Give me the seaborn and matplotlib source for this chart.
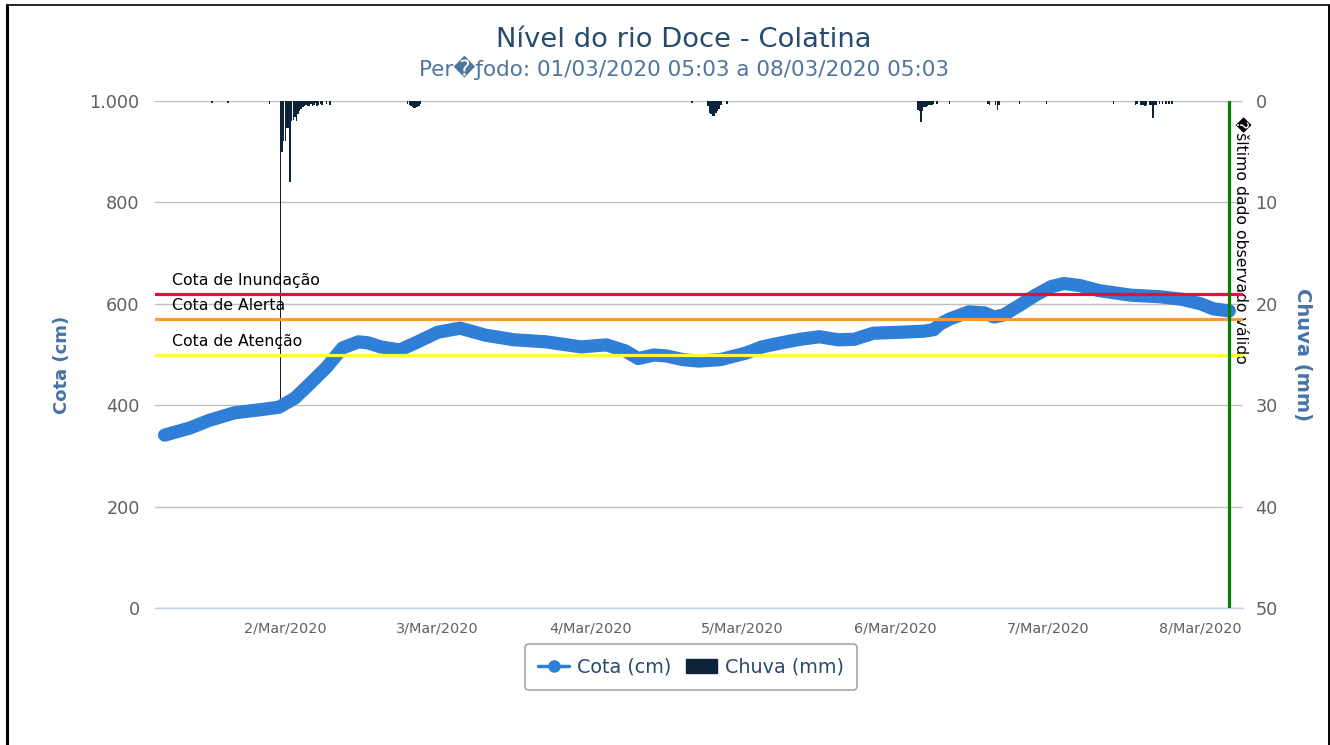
import seaborn as sns
import matplotlib.pyplot as plt
import matplotlib.dates as mdates
import pandas as pd
from matplotlib.lines import Line2D
from matplotlib.patches import Patch
from matplotlib.ticker import FuncFormatter, FixedLocator

# River level (cm), hours after 01/03/2020 05:03
cota_hours = [0, 4, 7, 11, 15, 18, 20.5, 23, 25.5, 28, 30.5, 32, 34, 37, 39.5, 43, 46.5, 50.5, 55, 60,
              65.5, 69.5, 72.5, 74.5, 77, 79, 81.5, 84, 87.5, 91.5, 94, 97, 100, 103, 106, 108.5, 111.5,
              116, 119.5, 121, 122, 123.5, 126.5, 129, 130.5, 132, 134.5, 137, 139.5, 141.5, 144, 147,
              152, 156.5, 160, 163, 165, 167.5]
cota_cm = [341, 355, 370, 385, 391, 396, 414, 444, 475, 513, 525, 523, 515, 509, 523, 544, 552, 538, 529, 525,
           515, 519, 507, 492, 499, 497, 490, 487, 490, 503, 515, 523, 530, 535, 529, 530, 542,
           544, 546, 549, 560, 570, 584, 582, 574, 578, 597, 617, 634, 640, 636, 626,
           617, 614, 609, 600, 590, 586]

# Rain (mm), hours after 01/03/2020 05:03
chuva_hours = [7.5, 10, 16.5,
               18.25, 18.5, 18.75, 19.0, 19.25, 19.5, 19.75, 20.0, 20.25, 20.5, 20.75, 21.0, 21.25, 21.5,
               21.75, 22.0, 22.25, 22.5, 22.75, 23.0, 23.25, 23.5, 23.75, 24.0, 24.25, 24.5, 24.75, 25.5, 26.0,
               38.25, 38.5, 38.75, 39.0, 39.25, 39.5, 39.75, 40.0, 40.25,
               83.0, 85.5, 85.75, 86.0, 86.25, 86.5, 86.75, 87.0, 87.25, 87.5, 88.5,
               118.5, 118.75, 119.0, 119.25, 119.5, 119.75, 120.0, 120.25, 120.5, 120.75, 121.0, 121.5,
               123.5, 129.5, 129.75, 130.75, 131.0, 131.25, 134.5, 138.75, 149.25,
               152.75, 153.0, 153.5, 153.75, 154.0, 154.25, 154.5, 155.0, 155.25, 155.5, 155.75, 156.0,
               156.5, 157.0, 157.5, 158.0, 158.5]
chuva_mm = [0.2, 0.2, 0.3,
            29.6, 5.0, 3.9, 3.9, 2.7, 2.7, 8.0, 2.0, 1.9, 1.6, 2.0, 1.3, 1.0, 0.8,
            0.6, 0.5, 0.4, 0.5, 0.5, 0.3, 0.5, 0.4, 0.2, 0.5, 0.4, 0.3, 0.4, 0.3, 0.4,
            0.3, 0.4, 0.5, 0.6, 0.7, 0.7, 0.6, 0.5, 0.3,
            0.2, 0.5, 1.2, 1.3, 1.5, 1.5, 1.2, 1.0, 0.8, 0.4, 0.3,
            0.9, 1.0, 2.1, 1.0, 0.6, 0.6, 0.5, 0.4, 0.4, 0.4, 0.3, 0.3,
            0.3, 0.3, 0.4, 0.4, 0.9, 0.4, 0.3, 0.3, 0.3,
            0.4, 0.3, 0.4, 0.4, 0.4, 0.5, 0.4, 0.4, 0.4, 1.7, 0.4, 0.4,
            0.3, 0.3, 0.3, 0.3, 0.3]

cotas_ref = [620, 570, 500]
cotas_nomes = ["Cota de Inundação", "Cota de Alerta", "Cota de Atenção"]
cotas_cores = ["#ff0040", "#ff9933", "#ffff33"]
ultimo_hora = 167.5

inicio = pd.Timestamp("2020-03-01 05:03")
df = pd.DataFrame({"tempo": inicio + pd.to_timedelta(cota_hours, unit="h"), "cota": cota_cm})
chuva = pd.DataFrame({"tempo": inicio + pd.to_timedelta(chuva_hours, unit="h"), "mm": chuva_mm})

sns.set_style("white")
plt.rcParams["font.family"] = ["DejaVu Sans"]

fig = plt.figure(figsize=(13.3, 7.45), dpi=100)
ax = fig.add_axes([155 / 1330, 1 - 608 / 745, 1088 / 1330, 507 / 745])
ax2 = ax.twinx()
ax.set_zorder(2)
ax2.set_zorder(1)
ax.patch.set_visible(False)

# rain bars hanging from top
ax2.bar(chuva["tempo"], chuva["mm"], width=0.25 / 24 * 0.95, color="#0d233a", linewidth=0)
ax2.set_ylim(50, 0)
ax2.yaxis.set_major_locator(FixedLocator(range(0, 51, 10)))
ax2.grid(axis="y", color="#c0c0c0", linewidth=1)
ax2.set_axisbelow(True)

sns.lineplot(data=df, x="tempo", y="cota", ax=ax, color="#2f7ed8", linewidth=9.5,
             solid_capstyle="round", solid_joinstyle="round", legend=False, zorder=3)
ax.set_ylim(0, 1000)
ax.set_yticks(range(0, 1001, 200))
ax.yaxis.set_major_formatter(FuncFormatter(lambda v, p: f"{int(v):,}".replace(",", ".")))
ax.set_xlim(inicio - pd.Timedelta(hours=1.5), inicio + pd.Timedelta(hours=169.65))
ax.set_xlabel("")
ax.set_ylabel("")

for val, nome, cor in zip(cotas_ref, cotas_nomes, cotas_cores):
    ax.axhline(val, color=cor, linewidth=2.3, zorder=5)
    ax.annotate(nome, xy=(17 / 1088, val), xycoords=("axes fraction", "data"),
                xytext=(0, 4), textcoords="offset points", fontsize=11.3, color="black",
                va="bottom", ha="left")

t_ult = inicio + pd.Timedelta(hours=ultimo_hora)
ax.axvline(t_ult, color="#008000", linewidth=2.3, zorder=6)
ax.annotate("\ufffdšltimo dado observado válido", xy=(t_ult, 970), xycoords="data",
            xytext=(3, 0), textcoords="offset points", rotation=270, fontsize=11.3,
            color="black", ha="left", va="top")

ax.xaxis.set_major_locator(mdates.DayLocator())
ax.xaxis.set_major_formatter(FuncFormatter(
    lambda v, p: f"{mdates.num2date(v).day}/{mdates.num2date(v):%b}/{mdates.num2date(v).year}"))

for a in (ax, ax2):
    for s in ("top", "left", "right"):
        a.spines[s].set_visible(False)
ax2.spines["bottom"].set_visible(False)
ax.spines["bottom"].set_color("#c0d0e0")
ax.spines["bottom"].set_linewidth(1)

ax.tick_params(axis="y", length=0, labelsize=12.7, labelcolor="#606060", pad=11)
ax2.tick_params(axis="y", length=0, labelsize=12.7, labelcolor="#606060", pad=9)
ax.tick_params(axis="x", length=7, color="#c0d0e0", width=1, labelsize=10.4,
               labelcolor="#606060", pad=3)

fig.text(62 / 1330, 1 - 365 / 745, "Cota (cm)", rotation=90, fontsize=13, fontweight="bold",
         color="#4572a7", ha="center", va="center")
fig.text(1302 / 1330, 1 - 355 / 745, "Chuva (mm)", rotation=270, fontsize=14, fontweight="bold",
         color="#4572a7", ha="center", va="center")

fig.text(684 / 1330, 1 - 40 / 745, "Nível do rio Doce - Colatina", fontsize=19.7,
         color="#274b6d", ha="center", va="center")
fig.text(684 / 1330, 1 - 68 / 745, "Per\ufffdƒodo: 01/03/2020 05:03 a 08/03/2020 05:03", fontsize=15.5,
         color="#4d759e", ha="center", va="center")

handles = [Line2D([0], [0], color="#2f7ed8", linewidth=2.5, marker="o", markersize=8),
           Patch(facecolor="#0d233a", edgecolor="#0d233a")]
leg = fig.legend(handles, ["Cota (cm)", "Chuva (mm)"], loc="center", ncol=2,
                 bbox_to_anchor=(691 / 1330, 1 - 667 / 745), fontsize=13.8, frameon=True,
                 fancybox=True, edgecolor="#909090", handlelength=1.6, columnspacing=0.8,
                 handletextpad=0.4, borderpad=0.7, labelcolor="#274b6d")
leg.get_frame().set_linewidth(1.2)

# outer border
fig.add_artist(Line2D([7 / 1330, 7 / 1330], [0, 1 - 5 / 745], color="black", linewidth=2.2))
fig.add_artist(Line2D([7 / 1330, 1328.5 / 1330], [1 - 5 / 745, 1 - 5 / 745], color="black", linewidth=1.2))
fig.add_artist(Line2D([1328.5 / 1330, 1328.5 / 1330], [0, 1 - 5 / 745], color="black", linewidth=1.4))

fig.savefig("out.png", dpi=100)
